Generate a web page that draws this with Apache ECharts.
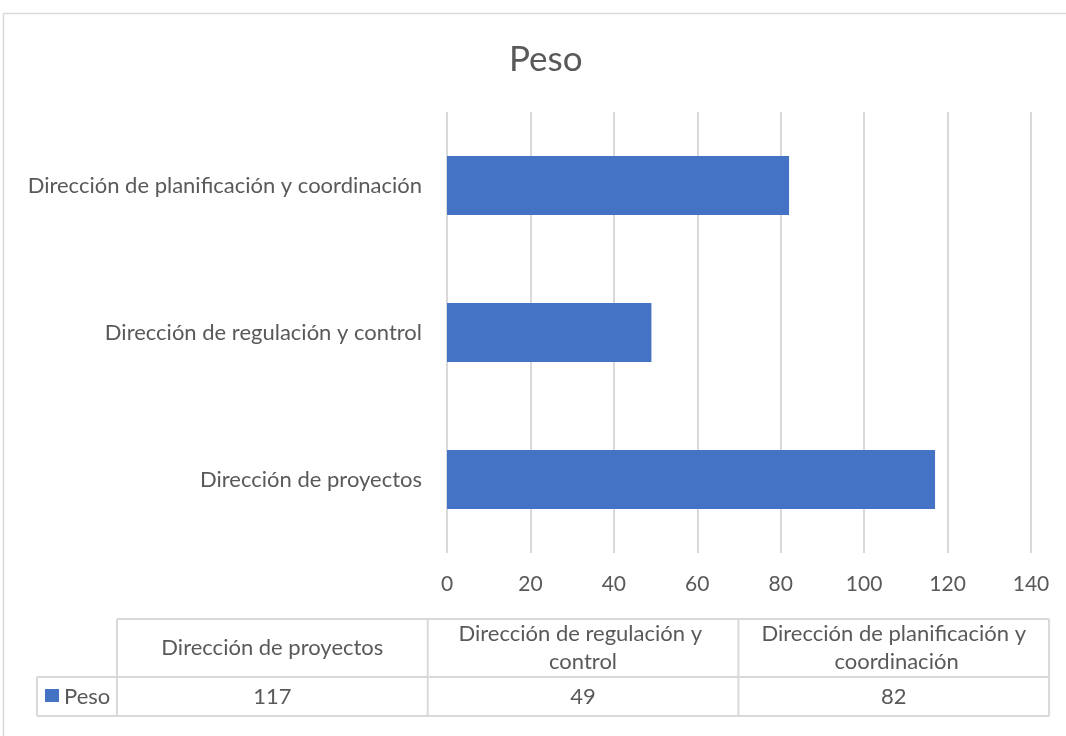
<!DOCTYPE html>
<html>
<head>
<meta charset="utf-8">
<script src="https://cdn.jsdelivr.net/npm/echarts@6/dist/echarts.min.js"></script>
<style>
  html, body { margin: 0; padding: 0; background: #ffffff; }
  #chart { width: 1066px; height: 736px; }
</style>
</head>
<body>
<div id="chart"></div>
<script>
// Categories, bottom to top on the bar axis
const categories = [
  'Dirección de proyectos',
  'Dirección de regulación y control',
  'Dirección de planificación y coordinación'
];
const seriesName = 'Peso';
const pesoValues = [117, 49, 82];
const axisMin = 0;
const axisMax = 140;
const axisStep = 20;

const FONT = 'Lato, "Open Sans", sans-serif';
const TEXT = '#595959';
const GRID = '#d9d9d9';
const BAR = '#4472C4';
const FS = 22;

// Data table geometry under the chart
const tbl = {
  legendLeft: 37,
  left: 117,
  colWidth: 310.7,
  headTop: 619,
  rowTop: 677,
  bottom: 716
};

function buildTable() {
  const els = [];
  const right = tbl.left + tbl.colWidth * categories.length;
  const line = (x1, y1, x2, y2) => ({
    type: 'line',
    shape: { x1, y1, x2, y2 },
    style: { stroke: GRID, lineWidth: 2 },
    silent: true
  });
  els.push(line(tbl.left, tbl.headTop, right, tbl.headTop));
  els.push(line(tbl.legendLeft, tbl.rowTop, right, tbl.rowTop));
  els.push(line(tbl.legendLeft, tbl.bottom, right, tbl.bottom));
  els.push(line(tbl.legendLeft, tbl.rowTop, tbl.legendLeft, tbl.bottom));
  for (let i = 0; i <= categories.length; i++) {
    const x = tbl.left + tbl.colWidth * i;
    els.push(line(x, tbl.headTop, x, tbl.bottom));
  }
  categories.forEach((name, i) => {
    const cx = tbl.left + tbl.colWidth * (i + 0.5);
    els.push({
      type: 'text',
      silent: true,
      style: {
        x: cx,
        y: (tbl.headTop + tbl.rowTop) / 2,
        text: name,
        width: 285,
        overflow: 'break',
        align: 'center',
        verticalAlign: 'middle',
        lineHeight: 28,
        fill: TEXT,
        font: FS + 'px ' + FONT
      }
    });
    els.push({
      type: 'text',
      silent: true,
      style: {
        x: cx,
        y: (tbl.rowTop + tbl.bottom) / 2,
        text: String(pesoValues[i]),
        align: 'center',
        verticalAlign: 'middle',
        fill: TEXT,
        font: FS + 'px ' + FONT
      }
    });
  });
  // legend key in the first cell of the value row
  els.push({
    type: 'rect',
    silent: true,
    shape: { x: 45, y: 689, width: 14, height: 13 },
    style: { fill: BAR }
  });
  els.push({
    type: 'text',
    silent: true,
    style: {
      x: 64,
      y: (tbl.rowTop + tbl.bottom) / 2,
      text: seriesName,
      align: 'left',
      verticalAlign: 'middle',
      fill: TEXT,
      font: FS + 'px ' + FONT
    }
  });
  return els;
}

const chart = echarts.init(document.getElementById('chart'), null, { renderer: 'canvas' });

chart.setOption({
  backgroundColor: '#ffffff',
  animation: false,
  title: {
    text: seriesName,
    left: 504,
    top: 37,
    textStyle: { fontFamily: FONT, fontSize: 35, fontWeight: 'normal', color: TEXT }
  },
  grid: { left: 447, right: 35, top: 112, bottom: 183, containLabel: false },
  xAxis: {
    type: 'value',
    min: axisMin,
    max: axisMax,
    interval: axisStep,
    axisLine: { show: false },
    axisTick: { show: false },
    axisLabel: { color: TEXT, fontFamily: FONT, fontSize: 21, margin: 21 },
    splitLine: { show: true, lineStyle: { color: GRID, width: 2 } }
  },
  yAxis: {
    type: 'category',
    data: categories,
    axisLine: { show: false },
    axisTick: { show: false },
    axisLabel: { color: TEXT, fontFamily: FONT, fontSize: FS, margin: 25 },
    splitLine: { show: false }
  },
  series: [{
    name: seriesName,
    type: 'bar',
    data: pesoValues,
    barCategoryGap: '60%',
    itemStyle: { color: BAR },
    label: { show: false }
  }],
  graphic: [
    {
      type: 'rect',
      silent: true,
      shape: { x: 3.5, y: 13.5, width: 1100, height: 760 },
      style: { fill: 'none', stroke: GRID, lineWidth: 1.5 }
    }
  ].concat(buildTable())
});
</script>
</body>
</html>
